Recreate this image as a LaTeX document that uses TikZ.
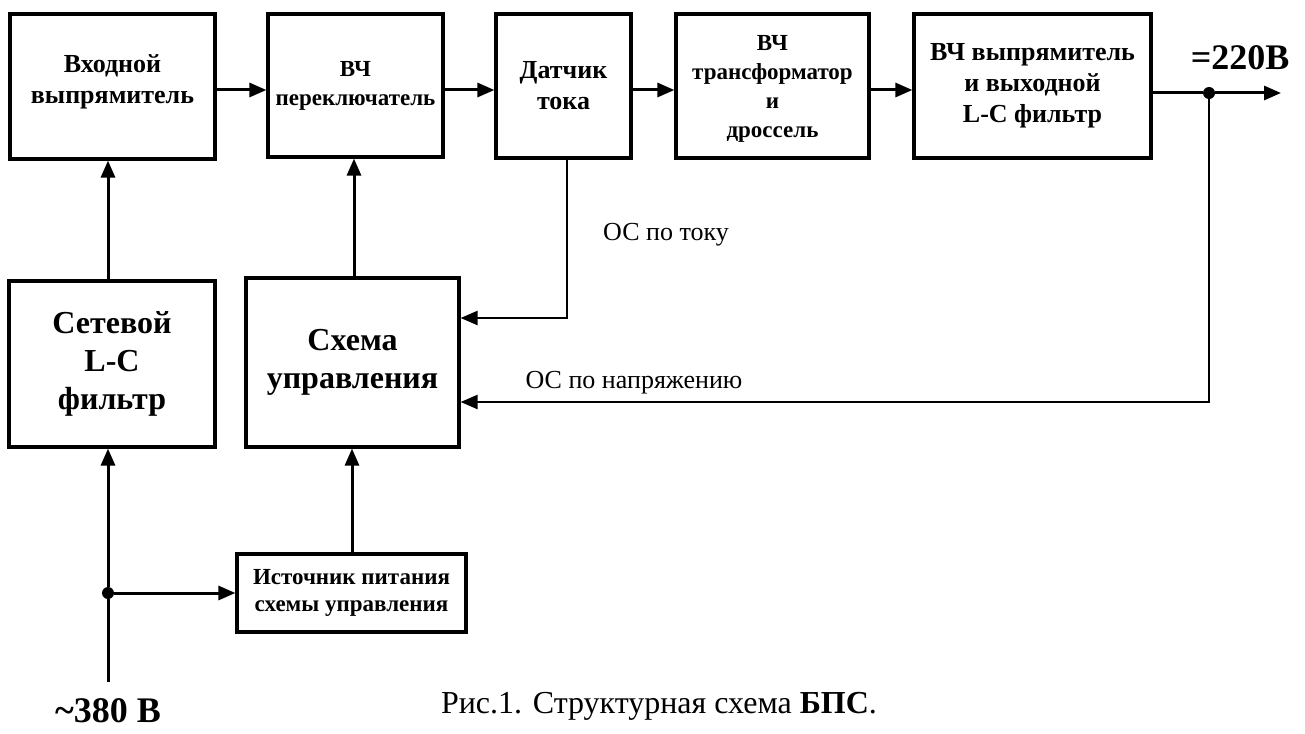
\documentclass[tikz,border=0pt]{standalone}
\usepackage{fontspec}
\setmainfont{Liberation Serif}
\usetikzlibrary{arrows.meta, positioning}

\begin{document}
\begin{tikzpicture}[x=1pt, y=-1pt,
        block/.style={rectangle, draw, line width=3.2pt, align=center, inner sep=0pt,
            font=\bfseries\fontsize{26}{31}\selectfont},
        smallblock/.style={block, font=\bfseries\fontsize{23}{29}\selectfont},
        bigblock/.style={block, font=\bfseries\fontsize{32}{38}\selectfont},
        link/.style={-{Triangle[length=17pt, width=14pt]}, line width=3pt},
        feedback/.style={link, line width=2.4pt},
        junction/.style={circle, fill, inner sep=0pt, minimum size=12pt},
        voltage/.style={font=\bfseries\fontsize{36}{40}\selectfont},
        remark/.style={font=\fontsize{26}{30}\selectfont}
    ]
    \useasboundingbox (0,0) rectangle (1305,733);

    % Power path
    \node[block, minimum width=205pt, minimum height=145pt, text depth=14pt] (rect) at (112.5,86.5) {Входной\\выпрямитель};
    \node[smallblock, minimum width=175pt, minimum height=143pt] (switch) at (355.5,85.5) {ВЧ\\переключатель};
    \node[block, minimum width=135pt, minimum height=144pt] (sensor) at (563.5,86) {Датчик\\тока};
    \node[smallblock, minimum width=193pt, minimum height=144pt, text depth=0pt] (trafo) at (772.5,86) {ВЧ\\трансформатор\\и\\дроссель};
    \node[block, minimum width=237pt, minimum height=144pt] (outrect) at (1032.5,86) {ВЧ выпрямитель\\и выходной\\L-C фильтр};

    % Lower blocks
    \node[bigblock, minimum width=206pt, minimum height=166pt] (filter) at (112,364) {Сетевой\\L-C\\фильтр};
    \node[bigblock, minimum width=213pt, minimum height=169pt] (control) at (352.5,362.5) {Схема\\управления};
    \node[smallblock, minimum width=229pt, minimum height=78pt, font=\bfseries\fontsize{23}{27}\selectfont] (supply) at (351.5,593) {Источник питания\\схемы управления};

    % Terminals
    \node[junction] (outdot) at (1209,93) {};
    \coordinate (out) at (1281,93);
    \node[junction] (indot) at (108,593) {};
    \coordinate (in) at (108,682);
    \node[voltage] (outlabel) at (1240,58) {=220В};
    \node[voltage] (inlabel) at (108,711) {\textasciitilde380 В};

    % Forward connections
    \draw[link] (rect.east |- 0,90) -- (switch.west |- 0,90);
    \draw[link] (switch.east |- 0,90) -- (sensor.west |- 0,90);
    \draw[link] (sensor.east |- 0,90) -- (trafo.west |- 0,90);
    \draw[link] (trafo.east |- 0,90) -- (outrect.west |- 0,90);
    \draw[link] (outrect.east |- outdot) -- (outdot) -- (out);
    \draw[link] (filter.north -| 108,0) -- (rect.south -| 108,0);
    \draw[link] (control.north -| 354,0) -- (switch.south -| 354,0);
    \draw[link] (in) -- (indot) -- (filter.south -| indot);
    \draw[link] (indot) -- (supply.west |- indot);
    \draw[link] (supply.north -| 352,0) -- (control.south -| 352,0);

    % Feedback
    \draw[feedback] (sensor.south -| 567,0) |- (control.east |- 0,318);
    \draw[feedback] (outdot) |- (control.east |- 0,402);
    \node[remark] (curlabel) at (666,235) {ОС по току};
    \node[remark] (vollabel) at (634,383) {ОС по напряжению};

    % Caption
    \node[font=\fontsize{32}{36}\selectfont] (caption) at (659,706) {Рис.1. Структурная схема \textbf{БПС}.};
\end{tikzpicture}
\end{document}
